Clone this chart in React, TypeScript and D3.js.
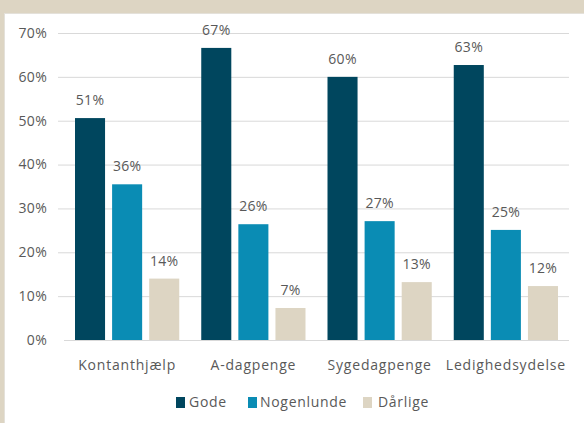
import React from "react";
import * as d3 from "d3";

const categories = ["Kontanthjælp", "A-dagpenge", "Sygedagpenge", "Ledighedsydelse"];
const seriesNames = ["Gode", "Nogenlunde", "Dårlige"];
const gode = [50.6, 66.6, 60.0, 62.7];
const nogenlunde = [35.5, 26.4, 27.1, 25.1];
const daarlige = [14.0, 7.3, 13.2, 12.3];
const labelGode = ["51%", "67%", "60%", "63%"];
const labelNogenlunde = ["36%", "26%", "27%", "25%"];
const labelDaarlige = ["14%", "7%", "13%", "12%"];
const yTicks = [0, 10, 20, 30, 40, 50, 60, 70];
const colors = ["#00465e", "#0a8cb4", "#ddd5c3"];

const W = 584;
const H = 423;
const FONT = "'Open Sans', sans-serif";
const TXT = "#595959";

export default function App() {
  const series = [gode, nogenlunde, daarlige];
  const labels = [labelGode, labelNogenlunde, labelDaarlige];
  const y = d3.scaleLinear().domain([0, 70]).range([340, 33]);
  const x0 = d3.scaleBand().domain(categories).range([64, 569]).paddingInner(0).paddingOuter(0);
  const x1 = d3.scaleBand().domain(seriesNames).range([11, x0.bandwidth() - 11]).paddingInner(0.19);
  const legendSq = [176, 248, 363];
  const legendTx = [189, 260, 378];

  return (
    <div style={{ position: "fixed", left: 0, top: 0 }}>
      <svg width={W} height={H} style={{ display: "block" }}>
        <rect x={0} y={0} width={W} height={H} fill="#ddd5c3" />
        <rect x={4.5} y={13.5} width={W} height={H} fill="#ffffff" stroke="#e4e1da" />
        {yTicks.map((t) => (
          <g key={t}>
            {t > 0 && (
              <line x1={58} x2={569} y1={y(t) + 0.5} y2={y(t) + 0.5} stroke="#d9d9d9" strokeWidth={1} />
            )}
            <text x={47} y={y(t)} dy="0.35em" textAnchor="end" fontFamily={FONT} fontSize={14} letterSpacing={0.3} fill={TXT}>
              {t}%
            </text>
          </g>
        ))}
        {categories.map((c, i) => (
          <g key={c} transform={`translate(${x0(c)},0)`}>
            {seriesNames.map((s, j) => {
              const v = series[j][i];
              const bx = x1(s)!;
              return (
                <g key={s}>
                  <rect x={bx} y={y(v)} width={x1.bandwidth()} height={y(0) - y(v)} fill={colors[j]} />
                  <text
                    x={bx + x1.bandwidth() / 2}
                    y={y(v) - 13}
                    textAnchor="middle"
                    fontFamily={FONT}
                    fontSize={14}
                    letterSpacing={0.3}
                    fill={TXT}
                  >
                    {labels[j][i]}
                  </text>
                </g>
              );
            })}
            <text
              x={x0.bandwidth() / 2}
              y={370}
              textAnchor="middle"
              fontFamily={FONT}
              fontSize={14}
              letterSpacing={0.8}
              fill={TXT}
            >
              {c}
            </text>
          </g>
        ))}
        <line x1={64} x2={569} y1={340.5} y2={340.5} stroke="#d9d9d9" strokeWidth={1} />
        {seriesNames.map((s, j) => (
          <g key={s}>
            <rect x={legendSq[j]} y={397} width={9} height={11} fill={colors[j]} />
            <text x={legendTx[j]} y={402} dy="0.35em" fontFamily={FONT} fontSize={14} letterSpacing={0.7} fill={TXT}>
              {s}
            </text>
          </g>
        ))}
      </svg>
    </div>
  );
}
